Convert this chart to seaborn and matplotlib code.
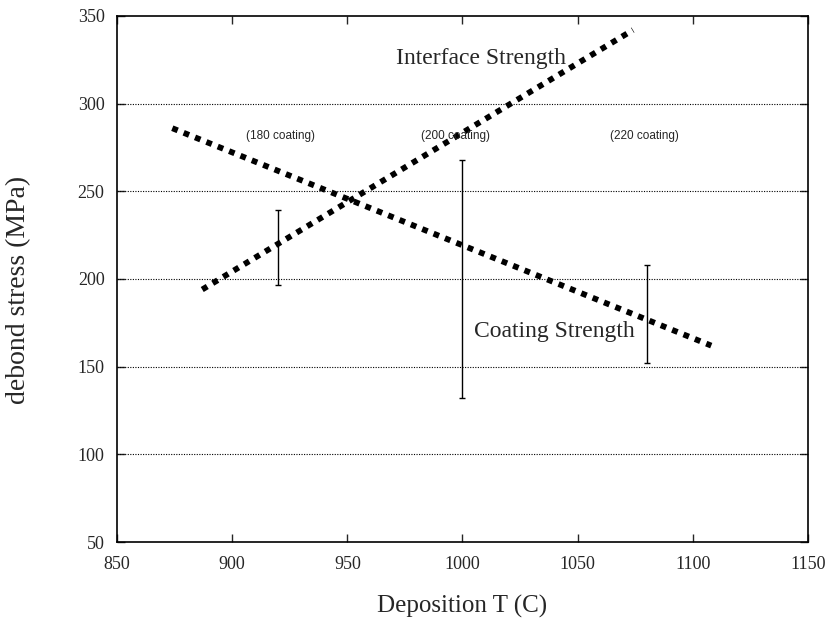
import numpy as np
import pandas as pd
import seaborn as sns
import matplotlib
matplotlib.use("Agg")
import matplotlib.pyplot as plt

# values
interface_T = [887, 1074]
interface_stress = [194, 342]
coating_T = [874, 1108]
coating_stress = [286, 162]

meas_T = [920, 1000, 1080]
meas_mid = [218, 200, 180]
meas_err = [21.5, 68, 28]
meas_labels = ["(180 coating)", "(200 coating)", "(220 coating)"]
label_T = [921, 997, 1079]

x_ticks = [850, 900, 950, 1000, 1050, 1100, 1150]
y_ticks = [50, 100, 150, 200, 250, 300, 350]

sns.set_style("ticks")
plt.rcParams['font.family'] = ['Liberation Serif', 'DejaVu Serif']

fig = plt.figure(figsize=(8.27, 6.32), dpi=100)
ax = fig.add_axes([0.1415, 0.1424, 0.977 - 0.1415, 0.9747 - 0.1424])

# dotted grid lines
for y in y_ticks[1:-1]:
    ax.axhline(y, color="black", lw=0.8, ls=(0, (1, 1.3)), zorder=1)

lines = pd.concat([
    pd.DataFrame({"T": interface_T, "stress": interface_stress, "kind": "Interface"}),
    pd.DataFrame({"T": coating_T, "stress": coating_stress, "kind": "Coating"}),
])
for kind, grp in lines.groupby("kind"):
    sns.lineplot(data=grp, x="T", y="stress", ax=ax, color="black",
                 lw=4.2, ls=(0, (1, 1.1)), dash_capstyle="butt",
                 zorder=3, legend=False)

ax.errorbar(meas_T, meas_mid, yerr=meas_err, fmt="none", ecolor="black",
            elinewidth=1.0, capsize=2.5, capthick=1.0, zorder=2)

for t, lab in zip(label_T, meas_labels):
    ax.text(t, 281.5, lab, ha="center", va="center", fontsize=8.5,
            family=["Liberation Sans", "DejaVu Sans"])

ax.text(1008, 326, "Interface Strength", ha="center", va="center", fontsize=17)
ax.text(1040, 170, "Coating Strength", ha="center", va="center", fontsize=17)

ax.set_xlim(850, 1150)
ax.set_ylim(50, 350)
ax.set_xticks(x_ticks)
ax.set_yticks(y_ticks)
ax.tick_params(direction="in", top=True, right=True, length=6, width=1,
               labelsize=13)
ax.tick_params(axis="x", pad=10)
ax.tick_params(axis="y", pad=9)
for s in ax.spines.values():
    s.set_linewidth(1.2)
    s.set_color("black")

ax.set_xlabel("Deposition T (C)", fontsize=18)
ax.set_ylabel("debond stress (MPa)", fontsize=20)
ax.xaxis.set_label_coords(0.5, -0.100)
ax.yaxis.set_label_coords(-0.125, 0.48)

fig.savefig("out.png", dpi=100)
